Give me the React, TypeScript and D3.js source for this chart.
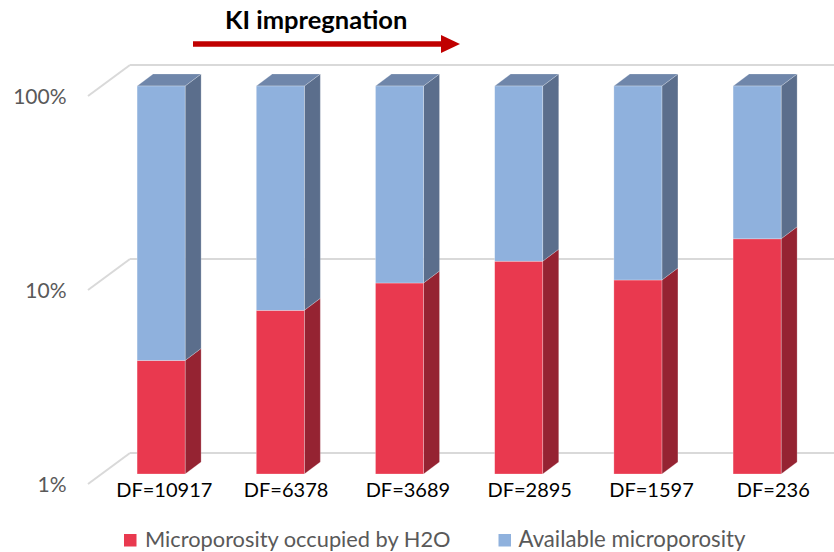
import React from "react";
import * as d3 from "d3";

const categories = ["DF=10917", "DF=6378", "DF=3689", "DF=2895", "DF=1597", "DF=236"];
const occupiedH2O = [3.85, 6.98, 9.65, 12.5, 10.0, 16.3];
const availableMicro = [96.15, 93.02, 90.35, 87.5, 90.0, 83.7];
const tickValues = [1, 10, 100];
const tickLabels = ["1%", "10%", "100%"];
const seriesNames = ["Microporosity occupied by H2O", "Available microporosity"];
const titleText = "KI impregnation";

const W = 834;
const H = 552;
const FONT = "Lato, 'Open Sans', sans-serif";

// 3D plane offsets (front plane -> bar plane -> back wall)
const barOff = { dx: 13.5, dy: -10 };
const backOff = { dx: 42, dy: -31 };
const depth = { dx: 16, dy: -12 };

const colors = {
  red: { front: "#E9394F", side: "#952332", top: "#B52B3C" },
  blue: { front: "#8FB1DD", side: "#5B6E8C", top: "#6F86AA" },
};

export default function App() {
  const yFront = d3.scaleLog().domain([1, 100]).range([484, 96]);
  const plotLeft = 88;
  const plotWidth = 715.2;
  const xBar = d3
    .scaleBand<string>()
    .domain(categories)
    .range([plotLeft + barOff.dx, plotLeft + barOff.dx + plotWidth])
    .paddingInner(0.597)
    .paddingOuter(0.2985);
  const xLabel = d3.scalePoint<string>().domain(categories).range([164.3, 773.3]);
  const yBar = (v: number) => yFront(v) + barOff.dy;

  const stacked = categories.map((c, i) => {
    const r = occupiedH2O[i];
    const t = r + availableMicro[i];
    return { c, segs: [
      { lo: 1, hi: r, col: colors.red },
      { lo: r, hi: Math.min(t, 100), col: colors.blue },
    ] };
  });

  const box = (x0: number, w: number, yTop: number, yBot: number, col: any, showTop: boolean, key: string) => {
    const side = `M${x0 + w},${yTop} L${x0 + w + depth.dx},${yTop + depth.dy} L${x0 + w + depth.dx},${yBot + depth.dy} L${x0 + w},${yBot} Z`;
    const top = `M${x0},${yTop} L${x0 + depth.dx},${yTop + depth.dy} L${x0 + w + depth.dx},${yTop + depth.dy} L${x0 + w},${yTop} Z`;
    return (
      <g key={key}>
        <path d={side} fill={col.side} stroke="rgba(255,255,255,0.35)" strokeWidth={0.6} />
        {showTop && <path d={top} fill={col.top} stroke="rgba(255,255,255,0.35)" strokeWidth={0.6} />}
        <rect x={x0} y={yTop} width={w} height={yBot - yTop} fill={col.front} stroke="rgba(255,255,255,0.45)" strokeWidth={0.6} />
      </g>
    );
  };

  const bw = xBar.bandwidth();
  const arrowY = 44;

  return (
    <svg width={W} height={H} style={{ display: "block", position: "absolute", left: 0, top: 0 }}>
      <rect width={W} height={H} fill="#fff" />
      {tickValues.map((t) => {
        const y = yFront(t);
        return (
          <g key={"g" + t}>
            <line x1={plotLeft} y1={y} x2={plotLeft + backOff.dx} y2={y + backOff.dy} stroke="#D9D9D9" strokeWidth={2} />
            <line x1={plotLeft + backOff.dx} y1={y + backOff.dy} x2={plotLeft + backOff.dx + plotWidth} y2={y + backOff.dy} stroke="#D9D9D9" strokeWidth={2} />
          </g>
        );
      })}
      {tickValues.map((t, i) => (
        <text key={"t" + t} x={66.5} y={yFront(t)} dy="0.36em" textAnchor="end" fontFamily={FONT} fontSize={21} fill="#595959">
          {tickLabels[i]}
        </text>
      ))}
      {stacked.map((s) => {
        const x0 = xBar(s.c)!;
        return (
          <g key={s.c}>
            {s.segs.map((sg, j) =>
              box(x0, bw, yBar(sg.hi), yBar(sg.lo), sg.col, j === s.segs.length - 1, s.c + j)
            )}
          </g>
        );
      })}
      {categories.map((c) => (
        <text key={"x" + c} x={xLabel(c)} y={496.5} textAnchor="middle" fontFamily={FONT} fontSize={20} fill="#000">
          {c}
        </text>
      ))}
      <text x={225} y={28.5} fontFamily={FONT} fontWeight="bold" fontSize={25.5} fill="#000">
        {titleText}
      </text>
      <line x1={193} y1={arrowY} x2={442} y2={arrowY} stroke="#C00000" strokeWidth={5.5} />
      <path d={`M441,${arrowY - 9} L460,${arrowY} L441,${arrowY + 9} Z`} fill="#C00000" />
      <rect x={124} y={534} width={12.5} height={12.5} fill={colors.red.front} />
      <text x={145} y={546.5} fontFamily={FONT} fontSize={21.8} fill="#595959">{seriesNames[0]}</text>
      <rect x={498.5} y={534} width={12.5} height={12.5} fill={colors.blue.front} />
      <text x={518.5} y={546.5} fontFamily={FONT} fontSize={22.2} fill="#595959">{seriesNames[1]}</text>
    </svg>
  );
}
